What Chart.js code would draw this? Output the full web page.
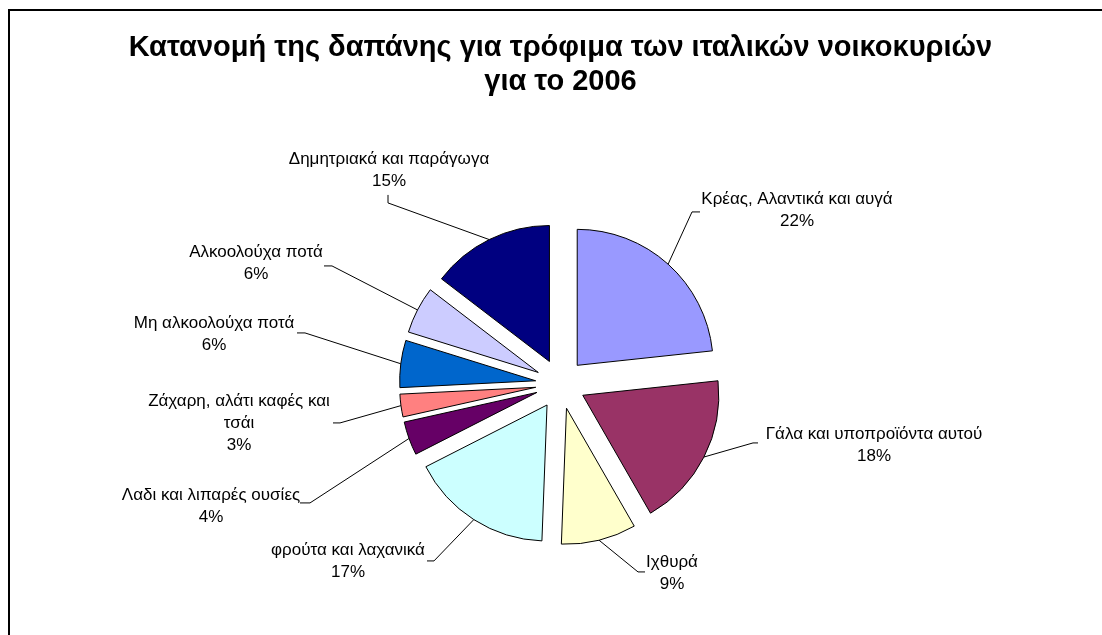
<!DOCTYPE html>
<html>
<head>
<meta charset="utf-8">
<script src="https://cdn.jsdelivr.net/npm/chart.js@4"></script>
<style>
  html, body { margin: 0; padding: 0; background: #fff; overflow: hidden; }
  #wrap { width: 1102px; height: 635px; }
</style>
</head>
<body>
<div id="wrap"><canvas id="pieChart" width="1102" height="635"></canvas></div>
<script>
const categories = [
    "Κρέας, Αλαντικά και αυγά",
    "Γάλα και υποπροϊόντα αυτού",
    "Ιχθυρά",
    "φρούτα και λαχανικά",
    "Λαδι και λιπαρές ουσίες",
    "Ζάχαρη, αλάτι καφές και\nτσάι",
    "Μη αλκοολούχα ποτά",
    "Αλκοολούχα ποτά",
    "Δημητριακά και παράγωγα"
];
const shares = [23.3, 18.4, 8.9, 16.9, 4.0, 2.7, 5.6, 5.6, 14.6];
const pctLabels = ["22%", "18%", "9%", "17%", "4%", "3%", "6%", "6%", "15%"];
const sliceColors = ["#9999FF", "#993366", "#FFFFCC", "#CCFFFF", "#660066",
                     "#FF8080", "#0066CC", "#CCCCFF", "#000080"];

// label block centre, leader start and elbow, relative to the pie centre
const labelLayout = [
    { at: [236.5, -174], start: [139.5, -172], elbow: [131.5, -172] },
    { at: [313.5, 61.5], start: [197.5, 59], elbow: [192.5, 59] },
    { at: [111.5, 189], start: [84.5, 188], elbow: [77.5, 188] },
    { at: [-212.5, 177], start: [-133.5, 177], elbow: [-126.5, 177] },
    { at: [-349.5, 122], start: [-260.5, 119], elbow: [-250.5, 119] },
    { at: [-321.5, 39], start: [-227.5, 39], elbow: [-220.5, 39] },
    { at: [-346.5, -50], start: [-263.5, -51], elbow: [-255.5, -51] },
    { at: [-304.5, -120.5], start: [-236.5, -118], elbow: [-228.5, -118] },
    { at: [-171.5, -213.5], start: [-172.5, -189], elbow: [-172.5, -181] }
];

const EXPLODE = 25;
let pieCenter = null;

// white page + frame round the chart
const framePlugin = {
    id: "frame",
    beforeDraw(chart) {
        const c = chart.ctx;
        c.save();
        c.fillStyle = "#fff";
        c.fillRect(0, 0, chart.width, chart.height);
        c.strokeStyle = "#000";
        c.lineWidth = 2;
        c.strokeRect(9, 10, chart.width + 50, chart.height + 50);
        c.restore();
    }
};

// pull every slice out along its bisector, like the exploded Excel pie
const explodePlugin = {
    id: "explode",
    afterDatasetUpdate(chart, args) {
        const arcs = args.meta.data;
        if (!arcs.length) return;
        pieCenter = { x: arcs[0].x, y: arcs[0].y };
        arcs.forEach(arc => {
            const mid = (arc.startAngle + arc.endAngle) / 2;
            arc.x = pieCenter.x + Math.cos(mid) * EXPLODE;
            arc.y = pieCenter.y + Math.sin(mid) * EXPLODE;
        });
    }
};

// outside labels with leader lines
const labelPlugin = {
    id: "outLabels",
    afterDatasetsDraw(chart) {
        const c = chart.ctx;
        const arcs = chart.getDatasetMeta(0).data;
        const lh = 22;
        c.save();
        c.font = "17px 'Liberation Sans', Arial, sans-serif";
        c.fillStyle = "#000";
        c.strokeStyle = "#000";
        c.lineWidth = 1;
        c.textAlign = "center";
        c.textBaseline = "middle";
        arcs.forEach((arc, i) => {
            const lay = labelLayout[i];
            const lines = categories[i].split("\n").concat([pctLabels[i]]);
            const bx = pieCenter.x + lay.at[0];
            const by = pieCenter.y + lay.at[1];
            lines.forEach((t, k) => {
                c.fillText(t, bx, by - (lines.length - 1) * lh / 2 + k * lh);
            });
            const mid = (arc.startAngle + arc.endAngle) / 2;
            const ex = arc.x + Math.cos(mid) * arc.outerRadius;
            const ey = arc.y + Math.sin(mid) * arc.outerRadius;
            c.beginPath();
            c.moveTo(pieCenter.x + lay.start[0], pieCenter.y + lay.start[1]);
            c.lineTo(pieCenter.x + lay.elbow[0], pieCenter.y + lay.elbow[1]);
            c.lineTo(ex, ey);
            c.stroke();
        });
        c.restore();
    }
};

new Chart(document.getElementById("pieChart").getContext("2d"), {
    type: "pie",
    data: {
        labels: categories,
        datasets: [{
            data: shares,
            backgroundColor: sliceColors,
            borderColor: "#000",
            borderWidth: 1,
            borderJoinStyle: "miter",
            radius: 136
        }]
    },
    options: {
        responsive: false,
        animation: false,
        layout: { padding: { left: 19, right: 0, top: 0, bottom: 0 } },
        plugins: {
            legend: { display: false },
            tooltip: { enabled: false },
            title: {
                display: true,
                text: ["Κατανομή της δαπάνης για τρόφιμα των ιταλικών νοικοκυριών", "για το 2006"],
                color: "#000",
                font: { family: "'Liberation Sans', Arial, sans-serif", size: 29, weight: "bold", lineHeight: 1.17 },
                padding: { top: 31, bottom: 34 }
            }
        }
    },
    plugins: [framePlugin, explodePlugin, labelPlugin]
});
</script>
</body>
</html>
